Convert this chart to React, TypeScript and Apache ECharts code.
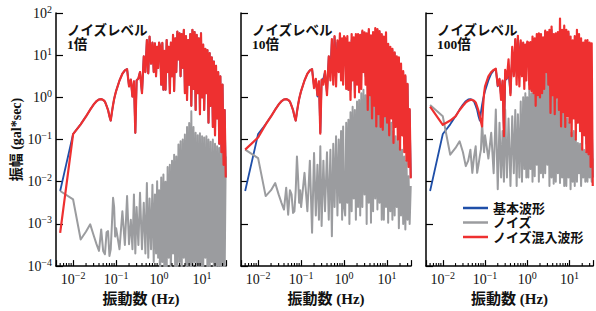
import { useEffect, useRef } from 'react';
import * as echarts from 'echarts';

// Frequencies (Hz) read along the x axis
const FREQ = [
  0.005, 0.01, 0.015, 0.02, 0.025, 0.03, 0.035, 0.04, 0.045, 0.05,
  0.055, 0.06, 0.065, 0.07, 0.075, 0.08, 0.085, 0.09, 0.095, 0.1,
  0.12, 0.14, 0.16, 0.18, 0.2, 0.22, 0.24, 0.26, 0.28, 0.3,
  0.33, 0.36, 0.4, 0.44, 0.48, 0.52, 0.56, 0.6, 0.65, 0.7,
  0.75, 0.8, 0.85, 0.9, 0.95, 1.0,
  1.06, 1.12, 1.19, 1.26, 1.33,
  1.41, 1.5, 1.58, 1.68, 1.78,
  1.88, 2, 2.11, 2.24, 2.37,
  2.51, 2.66, 2.82, 2.99, 3.16,
  3.35, 3.55, 3.76, 3.98, 4.22,
  4.47, 4.73, 5.01, 5.31, 5.62,
  5.96, 6.31, 6.68, 7.08, 7.5,
  7.94, 8.41, 8.91, 9.44, 10,
  10.6, 11.2, 11.9, 12.6, 13.3,
  14.1, 15, 15.8, 16.8, 17.8,
  18.8, 20, 21.1, 22.4, 23.7,
  25.1, 26.6, 28.2, 29.9, 31.6,
  33.5, 35.5,
];

// Amplitudes, as log10(gal*sec)
const BASE_WAVE = [
  -2.22, -0.87, -0.64, -0.45, -0.29, -0.17, -0.09, -0.05, -0.04, -0.06,
  -0.1, -0.2, -0.3, -0.45, -0.55, -0.35, -0.18, -0.04, 0.06, 0.15,
  0.4, 0.56, 0.64, 0.67, 0.26, 0.42, 0.02, 0.38, -0.84, 0.4,
  0.45, 0.6, 0.1, 0.97, 0.6, 1.36, 0.57, 1.44, 0.8, 1.3,
  0.6, 1.28, 0.5, 1.2, 0.7, 1.3,
  1.2, 0.3, 1.29, 0.18, 1.1,
  0.18, 1.36, 0.6, 1.2, 0.1,
  1.3, 0.5, 1.48, 0.15, 1.4,
  0.6, 1.56, 0.9, 1.52, 0.5,
  1.5, 0.7, 1.6, 0.1, 1.45,
  -0.06, 1.36, 0.3, 1.5, -0.2,
  1.6, 0.2, 1.55, -0.3, 1.48,
  0.1, 1.4, -0.4, 1.52, 0.0,
  1.25, -0.3, 1.15, 0.1, 1.12,
  -0.6, 1.05, -0.2, 0.95, -0.7,
  0.85, -0.9, 0.75, -0.5, 0.6,
  -1.1, 0.5, -1.3, 0.3, -1.6,
  -0.3, -1.9,
];

const NOISE_1 = [
  -2.22, -2.42, -3.37, -3.18, -3.01, -3.27, -3.48, -3.64, -3.13, -3.64,
  -3.72, -3.2, -3.17, -3.76, -3.6, -3.0, -2.38, -2.6, -3.3, -3.1,
  -3.6, -2.7, -3.5, -2.34, -3.48, -2.9, -3.6, -2.3, -3.7, -2.6,
  -3.5, -2.26, -3.6, -2.5, -3.7, -2.03, -3.8, -2.4, -3.6, -2.07,
  -3.9, -2.3, -3.7, -1.99, -3.8, -2.2,
  -4.2, -1.9, -3.9, -1.83, -4.3,
  -2.0, -4.2, -1.65, -3.8, -1.6,
  -4.3, -1.5, -3.7, -1.36, -4.2,
  -1.4, -4.1, -1.12, -3.9, -1.04,
  -4.3, -1.0, -3.8, -0.88, -4.2,
  -0.7, -4.0, -0.61, -4.3, -0.33,
  -4.2, -0.7, -3.9, -0.84, -4.3,
  -0.9, -4.1, -0.85, -4.2, -0.92,
  -4.3, -0.95, -3.8, -0.92, -4.2,
  -1.0, -4.3, -1.05, -3.9, -1.0,
  -4.2, -1.1, -4.3, -1.16, -4.0,
  -1.2, -4.3, -1.25, -4.1, -1.3,
  -4.2, -1.4,
];

const MIXED_1 = [
  -3.21, -0.87, -0.64, -0.45, -0.29, -0.17, -0.09, -0.05, -0.04, -0.06,
  -0.1, -0.2, -0.3, -0.45, -0.55, -0.35, -0.18, -0.04, 0.06, 0.15,
  0.4, 0.56, 0.64, 0.67, 0.26, 0.42, 0.02, 0.38, -0.84, 0.4,
  0.45, 0.6, 0.1, 0.97, 0.6, 1.36, 0.57, 1.44, 0.8, 1.3,
  0.6, 1.28, 0.5, 1.2, 0.7, 1.3,
  1.2, 0.3, 1.29, 0.18, 1.1,
  0.18, 1.36, 0.6, 1.2, 0.1,
  1.3, 0.5, 1.48, 0.15, 1.4,
  0.6, 1.56, 0.9, 1.52, 0.5,
  1.5, 0.7, 1.6, 0.1, 1.45,
  -0.06, 1.36, 0.3, 1.5, -0.2,
  1.6, 0.2, 1.55, -0.3, 1.48,
  0.1, 1.4, -0.4, 1.52, 0.0,
  1.25, -0.3, 1.15, 0.1, 1.12,
  -0.6, 1.05, -0.2, 0.95, -0.7,
  0.85, -0.9, 0.75, -0.5, 0.6,
  -1.1, 0.5, -1.3, 0.3, -1.6,
  -0.3, -1.9,
];

const NOISE_10 = [
  -1.24, -1.44, -2.34, -2.2, -2.03, -2.3, -2.5, -2.66, -2.14, -2.78,
  -2.2, -2.3, -2.74, -2.7, -2.2, -1.4, -1.9, -2.5, -2.2, -2.6,
  -1.79, -2.7, -1.5, -3.21, -1.32, -2.8, -1.6, -2.9, -1.16, -3.05,
  -1.5, -2.7, -1.3, -2.9, -1.24, -3.29, -1.1, -2.6, -0.92, -2.8,
  -1.0, -2.5, -0.8, -2.9, -0.69, -2.6,
  -2.8, -0.6, -2.5, -0.53, -3.0,
  -0.35, -2.7, -0.22, -2.4, -0.3,
  -2.9, -0.1, -2.6, -0.06, -2.8,
  0.1, -2.6, 0.18, -2.3, 0.05,
  -3.0, 0.3, -2.5, 0.42, -2.97,
  0.45, -2.7, 0.5, -2.4, 0.26,
  -2.66, 0.1, -2.5, 0.0, -2.9,
  -0.13, -2.9, -0.2, -2.6, -0.4,
  -2.97, -0.5, -2.7, -0.6, -2.9,
  -0.8, -2.8, -0.92, -2.6, -1.0,
  -3.1, -1.1, -2.8, -1.24, -3.0,
  -1.4, -3.13, -1.5, -2.9, -1.87,
  -3.0, -2.1,
];

const MIXED_10 = [
  -1.24, -0.95, -0.64, -0.45, -0.29, -0.17, -0.09, -0.05, -0.04, -0.06,
  -0.1, -0.2, -0.3, -0.45, -0.55, -0.35, -0.18, -0.04, 0.06, 0.15,
  0.4, 0.56, 0.64, 0.67, 0.22, 0.44, 0.05, 0.38, -0.86, 0.42,
  0.3, 0.62, 0.05, 0.97, 0.4, 1.38, 0.3, 1.45, 0.26, 1.35,
  0.6, 1.52, 0.4, 1.4, 0.3, 1.45,
  1.4, 0.2, 1.45, 0.18, 1.3,
  -0.06, 1.5, 0.4, 1.42, 0.0,
  1.5, 0.3, 1.5, 0.12, 1.48,
  0.2, 1.58, 0.6, 1.54, 0.3,
  1.52, -0.3, 1.62, 0.05, 1.47,
  -0.5, 1.55, -0.2, 1.64, -0.69,
  1.62, -0.4, 1.57, -0.7, 1.5,
  -0.77, 1.44, -0.45, 1.54, -0.6,
  1.27, -0.9, 1.2, -0.5, 1.15,
  -1.08, 1.07, -0.7, 0.97, -1.0,
  0.95, -1.24, 0.8, -0.9, 0.62,
  -1.3, 0.52, -1.5, 0.32, -1.65,
  -0.28, -1.92,
];

const NOISE_100 = [
  -0.18, -0.45, -1.36, -1.2, -1.04, -1.3, -1.63, -1.5, -1.24, -1.79,
  -1.4, -1.16, -1.79, -1.6, -1.4, -1.24, -0.61, -1.0, -1.3, -0.9,
  -1.45, -0.84, -1.8, -0.29, -2.18, -0.6, -1.9, -0.8, -2.0, -0.29,
  -1.9, -0.5, -2.1, -0.45, -1.8, -0.3, -2.1, -0.4, -1.9, -0.1,
  -2.0, 0.0, -1.7, 0.1, -1.9, 0.0,
  -1.9, 0.18, -1.7, 0.1, -2.0,
  0.2, -1.87, 0.3, -1.6, 0.25,
  -2.0, 0.5, -1.8, 0.4, -1.9,
  0.57, -1.8, 0.69, -1.6, 0.5,
  -2.1, 0.3, -1.9, 0.2, -2.05,
  0.1, -2.0, 0.0, -1.8, -0.1,
  -2.03, -0.13, -1.9, -0.3, -2.1,
  -0.4, -2.1, -0.5, -1.9, -0.6,
  -2.18, -0.84, -2.0, -0.8, -2.1,
  -1.0, -2.0, -1.08, -1.8, -1.1,
  -2.1, -1.2, -1.9, -1.25, -2.0,
  -1.3, -2.0, -1.32, -1.9, -1.4,
  -2.0, -1.45,
];

const MIXED_100 = [
  -0.22, -0.65, -0.55, -0.45, -0.3, -0.2, -0.12, -0.08, -0.06, -0.06,
  -0.08, -0.12, -0.22, -0.32, -0.45, -0.58, -0.69, -0.2, 0.1, 0.26,
  0.5, 0.6, 0.65, 0.68, 0.28, 0.44, -0.06, 0.4, -0.92, 0.65,
  0.45, 0.9, 0.05, 1.2, 0.5, 1.38, 0.3, 1.46, 0.26, 1.35,
  0.5, 1.3, 0.2, 1.25, 0.4, 1.32,
  1.3, 0.2, 1.31, 0.15, 1.44,
  0.1, 1.4, -0.2, 1.5, 0.05,
  1.52, 0.0, 1.5, 0.1, 1.42,
  0.2, 1.58, 0.6, 1.55, 0.3,
  1.6, -0.37, 1.68, 0.05, 1.5,
  -0.4, 1.52, 0.0, 1.55, -0.3,
  1.87, -0.69, 1.6, -0.35, 1.7,
  -0.7, 1.6, -0.45, 1.56, -0.6,
  1.44, -0.92, 1.35, -0.5, 1.45,
  -1.0, 1.6, -0.6, 1.5, -0.8,
  1.4, -1.24, 1.3, -0.9, 1.35,
  -1.3, 1.36, -1.35, 1.3, -1.65,
  1.28, -2.1,
];

const PANEL_TITLES = ['ノイズレベル\n1倍', 'ノイズレベル\n10倍', 'ノイズレベル\n100倍'];
const PANEL_NOISE = [NOISE_1, NOISE_10, NOISE_100];
const PANEL_MIXED = [MIXED_1, MIXED_10, MIXED_100];
const SERIES_NAMES = ['基本波形', 'ノイズ', 'ノイズ混入波形'];
const X_NAME = '振動数 (Hz)';
const Y_NAME = '振幅 (gal*sec)';

const COLORS = ['#1f4fa8', '#9b9c9f', '#ee3030'];
const LINE_WIDTHS = [1.8, 2, 2.2];
const GRID_LEFT = [56, 241, 426];
const LEGEND_TOPS = [201.5, 216, 230.5];
const SERIF = "'Liberation Serif', 'Noto Sans CJK JP', serif";

const toPairs = (vals: number[]) => FREQ.map((f, i) => [f, Math.pow(10, vals[i])]);

const MINOR_TICKS: number[] = [];
for (let e = -3; e <= 1; e++) {
  for (let k = 2; k <= 9; k++) {
    const v = k * Math.pow(10, e);
    if (v > 0.004 && v < 36) MINOR_TICKS.push(v);
  }
}

const decadeLabel = (value: number) => {
  const l = Math.log10(value);
  const e = Math.round(l);
  if (Math.abs(l - e) > 1e-6) return '';
  const s = e < 0 ? '\u2212' + -e : String(e);
  return `{b|10}{s|${s}}`;
};

const RICH = {
  b: { fontFamily: SERIF, fontSize: 14, color: '#111', lineHeight: 18, verticalAlign: 'middle' },
  s: { fontFamily: SERIF, fontSize: 10, color: '#111', lineHeight: 18, verticalAlign: 'top' },
};

export default function App() {
  const ref = useRef<HTMLDivElement>(null);
  useEffect(() => {
    if (!ref.current) return;
    const chart = echarts.init(ref.current, undefined, { renderer: 'svg' });
    const idx = [0, 1, 2];
    const series: any[] = [];
    idx.forEach((i) => {
      const datasets = [BASE_WAVE, PANEL_NOISE[i], PANEL_MIXED[i]];
      datasets.forEach((vals, j) => {
        series.push({
          type: 'line',
          name: SERIES_NAMES[j],
          xAxisIndex: i,
          yAxisIndex: i,
          data: toPairs(vals),
          symbol: 'none',
          showSymbol: false,
          color: COLORS[j],
          lineStyle: { color: COLORS[j], width: LINE_WIDTHS[j], join: 'round' },
          z: 2 + j,
        });
      });
      series.push({
        type: 'custom',
        xAxisIndex: i,
        yAxisIndex: i,
        silent: true,
        z: 10,
        data: MINOR_TICKS.map((v) => [v, 1e-4]),
        renderItem: (_p: any, api: any) => {
          const p = api.coord([api.value(0), api.value(1)]);
          return {
            type: 'line',
            shape: { x1: p[0], y1: p[1], x2: p[0], y2: p[1] - 3 },
            style: { stroke: '#000', lineWidth: 1.1 },
          };
        },
      });
    });

    const option: any = {
      animation: false,
      backgroundColor: '#fff',
      title: idx.map((i) => ({
        text: PANEL_TITLES[i],
        left: GRID_LEFT[i] + 11,
        top: 23,
        padding: 0,
        textStyle: { fontFamily: SERIF, fontSize: 13.5, fontWeight: 'bold', color: '#111', lineHeight: 14 },
      })),
      legend: SERIES_NAMES.map((name, j) => ({
        data: [name],
        left: 463,
        top: LEGEND_TOPS[j],
        padding: 0,
        icon: 'rect',
        itemWidth: 25,
        itemHeight: 2.5,
        selectedMode: false,
        textStyle: { fontFamily: SERIF, fontSize: 13, fontWeight: 'bold', color: '#111', lineHeight: 13 },
      })),
      grid: GRID_LEFT.map((l) => ({ left: l, top: 13, width: 170, height: 254, containLabel: false })),
      xAxis: idx.map((i) => ({
        type: 'log',
        logBase: 10,
        gridIndex: i,
        min: 0.004,
        max: 36,
        splitNumber: 4,
        axisLine: { show: true, lineStyle: { color: '#000', width: 1.5 } },
        axisTick: { show: true, inside: true, length: 6, lineStyle: { color: '#000', width: 1.2 } },
        splitLine: { show: false },
        axisLabel: { formatter: decadeLabel, margin: 4, rich: RICH },
        name: X_NAME,
        nameLocation: 'middle',
        nameGap: 22,
        nameTextStyle: { fontFamily: SERIF, fontSize: 15, fontWeight: 'bold', color: '#111', verticalAlign: 'top' },
      })),
      yAxis: idx.map((i) => ({
        type: 'log',
        logBase: 10,
        gridIndex: i,
        min: 1e-4,
        max: 100,
        splitNumber: 6,
        axisLine: { show: true, lineStyle: { color: '#000', width: 1.5 } },
        axisTick: { show: true, inside: true, length: 7, lineStyle: { color: '#000', width: 1.2 } },
        splitLine: { show: false },
        axisLabel: { show: i === 0, formatter: decadeLabel, margin: 4, rich: RICH },
        name: i === 0 ? Y_NAME : '',
        nameLocation: 'middle',
        nameGap: 31,
        nameTextStyle: { fontFamily: SERIF, fontSize: 14, fontWeight: 'bold', color: '#111' },
      })),
      series,
    };
    chart.setOption(option);
    return () => chart.dispose();
  }, []);
  return <div ref={ref} style={{ position: 'fixed', left: 0, top: 0, width: 596, height: 311 }} />;
}
